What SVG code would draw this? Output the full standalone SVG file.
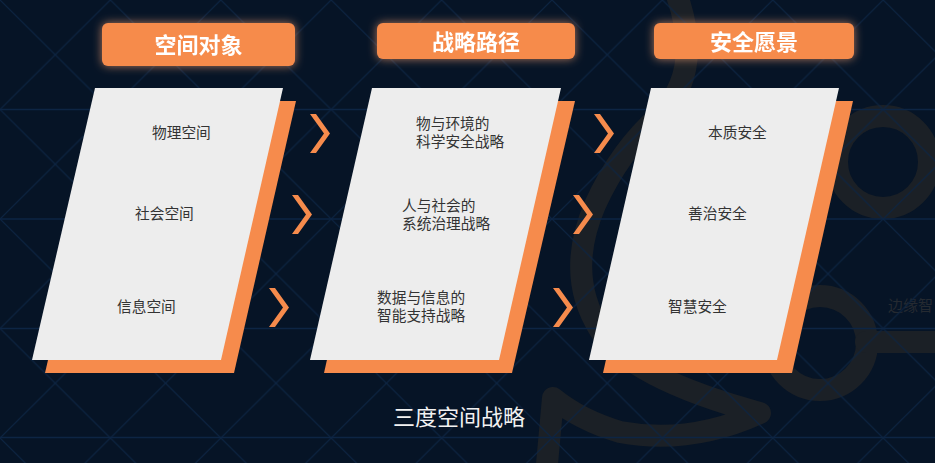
<svg xmlns="http://www.w3.org/2000/svg" width="935" height="463" viewBox="0 0 935 463">
  <style>
    .hdr { fill: #F68B4C; }
    .hdr-t { font-family: "Noto Sans CJK SC", "Noto Sans", sans-serif; font-size: 22px; font-weight: 700; fill: #ffffff; text-anchor: middle; }
    .card { fill: #EDEDED; }
    .shadow { fill: #F68B4C; }
    .ct { font-family: "Liberation Sans", "Noto Sans CJK SC", sans-serif; font-size: 14.7px; fill: #333333; }
    .deco { fill: none; stroke: #1b2026; stroke-width: 22; stroke-linecap: round; stroke-linejoin: round; }
    .chev { fill: #F68B4C; }
    .hline { stroke: #0d2544; stroke-width: 1.5; }
  </style>
  <defs>
    <pattern id="grid" patternUnits="userSpaceOnUse" width="110.4" height="109.5">
      <line x1="0" y1="0" x2="110.4" y2="109.5" stroke="#0c2442" stroke-width="1.2"/>
      <line x1="110.4" y1="0" x2="0" y2="109.5" stroke="#0c2442" stroke-width="1.2"/>
    </pattern>
    <filter id="glow" x="-20%" y="-50%" width="140%" height="200%">
      <feGaussianBlur in="SourceAlpha" stdDeviation="5" result="b"/>
      <feFlood flood-color="#F8A070" flood-opacity="0.7"/>
      <feComposite in2="b" operator="in" result="g"/>
      <feMerge>
        <feMergeNode in="g"/>
        <feMergeNode in="SourceGraphic"/>
      </feMerge>
    </filter>
    <polygon id="chevron" points="0,0 6,0 20,19.5 6,39 0,39 14,19.5"/>
  </defs>

  <!-- background -->
  <rect x="0" y="0" width="935" height="463" fill="#061426"/>

  <!-- faint decorative shapes -->
  <g id="decoration">
    <circle class="deco" cx="883" cy="162" r="46"/>
    <circle class="deco" cx="820" cy="343" r="47" stroke-width="21"/>
    <line class="deco" x1="866" y1="342" x2="950" y2="342" stroke-width="21" stroke-linecap="butt"/>
    <path class="deco" d="M 675,-10 Q 705,70 660,115 Q 620,150 595,205 Q 565,275 600,330 Q 630,378 760,413 Q 690,445 620,432 Q 580,420 553,398 L 546,475"/>
    <text x="888" y="311" font-family="Noto Sans CJK SC, Noto Sans, sans-serif" font-size="15" fill="#252a31">边缘智</text>
  </g>

  <!-- grid -->
  <g id="grid-lines">
    <rect x="0" y="0" width="935" height="463" fill="url(#grid)"/>
    <line class="hline" x1="0" y1="109.5" x2="935" y2="109.5"/>
    <line class="hline" x1="0" y1="219" x2="935" y2="219"/>
    <line class="hline" x1="0" y1="328.5" x2="935" y2="328.5"/>
    <line class="hline" x1="0" y1="437.5" x2="935" y2="437.5"/>
  </g>

  <!-- headers -->
  <g id="header-1" filter="url(#glow)">
    <rect class="hdr" x="102" y="23" width="193" height="43" rx="6"/>
    <text class="hdr-t" x="198.5" y="53">空间对象</text>
  </g>
  <g id="header-2" filter="url(#glow)">
    <rect class="hdr" x="377" y="23" width="198" height="36" rx="6"/>
    <text class="hdr-t" x="476" y="50">战略路径</text>
  </g>
  <g id="header-3" filter="url(#glow)">
    <rect class="hdr" x="654" y="23" width="200" height="36" rx="6"/>
    <text class="hdr-t" x="754" y="50">安全愿景</text>
  </g>

  <!-- cards -->
  <g id="card-objects">
    <polygon class="shadow" points="108,101 296,101 234,373 45,373"/>
    <polygon class="card" points="95,88 283,88 221,360 32,360"/>
    <text class="ct" x="152" y="137.5">物理空间</text>
    <text class="ct" x="135" y="218.5">社会空间</text>
    <text class="ct" x="117" y="311.5">信息空间</text>
  </g>
  <g id="card-paths">
    <polygon class="shadow" points="385,101 575,101 512,373 324,373"/>
    <polygon class="card" points="372,88 561,88 499,360 310,360"/>
    <text class="ct" x="416" y="128.5">物与环境的<tspan x="416" dy="18">科学安全战略</tspan></text>
    <text class="ct" x="402" y="210.5">人与社会的<tspan x="402" dy="18">系统治理战略</tspan></text>
    <text class="ct" x="377" y="303">数据与信息的<tspan x="377" dy="18">智能支持战略</tspan></text>
  </g>
  <g id="card-vision">
    <polygon class="shadow" points="664,101 853,101 792,373 603,373"/>
    <polygon class="card" points="651,88 839,88 777,360 589,360"/>
    <text class="ct" x="708" y="137.5">本质安全</text>
    <text class="ct" x="688" y="218.5">善治安全</text>
    <text class="ct" x="668" y="311.5">智慧安全</text>
  </g>

  <!-- connectors (chevrons) -->
  <g id="connectors" class="chev">
    <use href="#chevron" x="310" y="114"/>
    <use href="#chevron" x="594" y="114"/>
    <use href="#chevron" x="292" y="195"/>
    <use href="#chevron" x="573" y="195"/>
    <use href="#chevron" x="269" y="288"/>
    <use href="#chevron" x="553" y="288"/>
  </g>

  <text x="393" y="425" font-family="Noto Sans CJK SC, Noto Sans, sans-serif" font-size="22" fill="#f2f2f2">三度空间战略</text>
</svg>
